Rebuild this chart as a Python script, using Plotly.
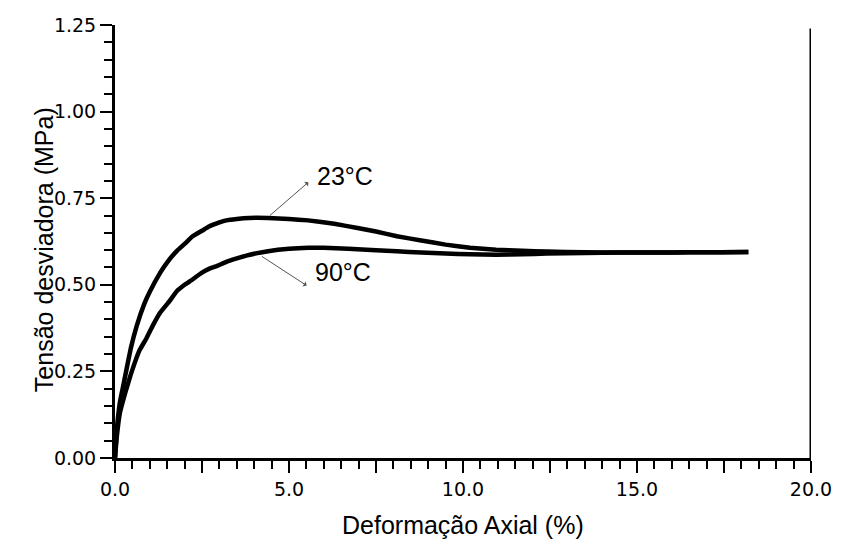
import plotly.graph_objects as go

# Axial strain (%) and deviator stress (MPa) for the two test temperatures
strain_23 = [0, 0.05, 0.14, 0.24, 0.45, 0.62, 0.85, 1.0, 1.3, 1.5, 1.78, 2.0, 2.23, 2.5, 2.7,
             3.0, 3.2, 3.5, 3.85, 4.4, 5.0, 5.55, 6.3, 6.97, 7.5, 8.1, 8.8, 9.5, 10.2, 10.95,
             11.7, 12.4, 13.5, 14.5, 15.5, 16.5, 17.4, 18.2]
stress_23 = [0, 0.08, 0.16, 0.21, 0.315, 0.38, 0.447, 0.48, 0.535, 0.565, 0.598, 0.618, 0.640,
             0.656, 0.668, 0.680, 0.686, 0.690, 0.693, 0.693, 0.690, 0.686, 0.676, 0.664, 0.654,
             0.640, 0.628, 0.616, 0.607, 0.601, 0.598, 0.596, 0.594, 0.593, 0.593, 0.594, 0.594,
             0.595]

strain_90 = [0, 0.05, 0.14, 0.3, 0.45, 0.7, 0.9, 1.1, 1.3, 1.56, 1.78, 2.0, 2.15, 2.5, 2.7,
             2.9, 3.2, 3.5, 3.8, 4.4, 5.0, 5.55, 6.0, 6.7, 7.5, 8.1, 8.8, 9.5, 10.2, 10.95,
             11.7, 12.4, 13.5, 14.5, 15.5, 16.5, 17.4, 18.2]
stress_90 = [0, 0.06, 0.13, 0.19, 0.24, 0.31, 0.345, 0.385, 0.42, 0.452, 0.482, 0.50, 0.51,
             0.535, 0.546, 0.553, 0.566, 0.576, 0.585, 0.597, 0.604, 0.607, 0.607, 0.604, 0.600,
             0.597, 0.593, 0.590, 0.588, 0.587, 0.588, 0.590, 0.592, 0.593, 0.593, 0.594, 0.594,
             0.595]

label_font = dict(family="Liberation Sans, Arial", size=25, color="black")
tick_font = dict(family="DejaVu Sans", size=19, color="black")

fig = go.Figure()
for xs, ys in ((strain_23, stress_23), (strain_90, stress_90)):
    fig.add_trace(go.Scatter(x=xs, y=ys, mode="lines",
                             line=dict(color="black", width=4.5, shape="spline", smoothing=0.3),
                             showlegend=False, hoverinfo="skip"))

# Right border of the frame
fig.add_shape(type="line", xref="x", yref="y", x0=20, x1=20, y0=0, y1=1.24,
              line=dict(color="black", width=3))

# Curve labels with pointer arrows
arrow = dict(showarrow=True, arrowhead=2, arrowsize=1, arrowwidth=1, arrowcolor="#555",
             arrowside="start", text="", axref="x", ayref="y", xref="x", yref="y")
fig.add_annotation(x=4.45, y=0.70, ax=5.6, ay=0.80, **arrow)
fig.add_annotation(x=4.22, y=0.582, ax=5.55, ay=0.495, **arrow)
fig.add_annotation(x=6.6, y=0.815, text="23°C", showarrow=False, font=label_font)
fig.add_annotation(x=6.54, y=0.538, text="90°C", showarrow=False, font=label_font)

# Axis titles
fig.add_annotation(xref="paper", yref="paper", x=0.5, y=-0.155, yanchor="middle",
                   text="Deformação Axial (%)", showarrow=False, font=label_font)
fig.add_annotation(xref="paper", yref="paper", x=-0.125, y=0.48, textangle=-90,
                   text="Tensão desviadora (MPa)", showarrow=False, font=label_font)

common = dict(showgrid=False, zeroline=False, ticks="outside", tickcolor="black", tickwidth=2,
              tickmode="linear", tick0=0, ticklen=12, tickfont=tick_font,
              showline=True, linewidth=3, linecolor="black")

fig.update_xaxes(range=[0, 20], dtick=2.5, ticklabelstep=2, tickformat=".1f",
                 minor=dict(dtick=0.5, tick0=0, ticks="outside", ticklen=8, tickwidth=2,
                            tickcolor="black", showgrid=False),
                 **common)
fig.update_yaxes(range=[0, 1.25], dtick=0.25, tickformat=".2f",
                 minor=dict(dtick=0.05, tick0=0, ticks="outside", ticklen=8, tickwidth=2,
                            tickcolor="black", showgrid=False),
                 **common)

fig.update_layout(width=844, height=543, margin=dict(l=115, r=26, t=25, b=85),
                  plot_bgcolor="white", paper_bgcolor="white")

fig.write_html("out.html")
